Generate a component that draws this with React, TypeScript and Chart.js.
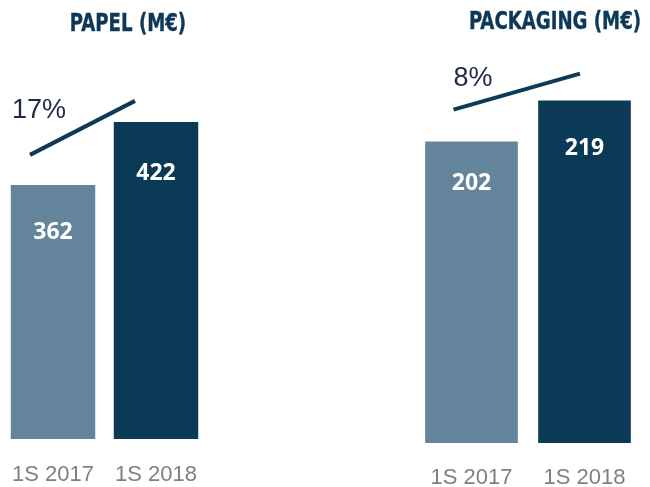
import React, { useEffect, useRef } from 'react';
import { Chart, registerables } from 'chart.js';

Chart.register(...registerables);

const categories = ['1S 2017', '1S 2018'];
const papelValues = [362, 422];
const packagingValues = [202, 219];
const papelGrowth = '17%';
const packagingGrowth = '8%';
const papelTitle = 'PAPEL (M€)';
const packagingTitle = 'PACKAGING (M€)';
const papelRange = [120, 480];
const packagingRange = [77, 235];

const barColors = ['#64849b', '#0b3a56'];

const overlayPlugin = {
  id: 'overlay',
  afterDatasetsDraw(chart: any, _args: any, opts: any) {
    const bars = chart.getDatasetMeta(0).data;
    const vals = chart.data.datasets[0].data;
    const ctx = chart.ctx;
    const b1 = bars[0];
    const b2 = bars[1];
    ctx.save();
    ctx.fillStyle = '#ffffff';
    ctx.font = 'bold 23px "Open Sans", "Liberation Sans", Arial, sans-serif';
    ctx.textAlign = 'center';
    ctx.textBaseline = 'middle';
    bars.forEach((b: any, i: number) => ctx.fillText(String(vals[i]), b.x, b.y + opts.valueOffsets[i]));
    const sx = b1.x + opts.start[0];
    const sy = b1.y + opts.start[1];
    const ex = b2.x + opts.end[0];
    const ey = b2.y + opts.end[1];
    ctx.strokeStyle = '#0c3a57';
    ctx.lineWidth = 4;
    ctx.beginPath();
    ctx.moveTo(sx, sy);
    ctx.lineTo(ex, ey);
    ctx.stroke();
    ctx.fillStyle = '#1c2a44';
    ctx.font = '27px "Liberation Sans", Arial, sans-serif';
    ctx.textAlign = 'left';
    ctx.fillText(opts.label, sx + opts.text[0], sy + opts.text[1]);
    ctx.restore();
  },
};

type PanelProps = {
  values: number[];
  range: number[];
  growth: string;
  left: number;
  width: number;
  padding: { top: number; left: number; right: number; bottom: number };
  labelBox: number;
  valueOffsets: number[];
  start: number[];
  end: number[];
  text: number[];
};

function Panel(p: PanelProps) {
  const ref = useRef<HTMLCanvasElement>(null);
  useEffect(() => {
    const chart = new Chart(ref.current as HTMLCanvasElement, {
      type: 'bar',
      data: {
        labels: categories,
        datasets: [
          {
            data: p.values,
            backgroundColor: barColors,
            borderWidth: 0,
            barPercentage: 1,
            categoryPercentage: 0.82,
          },
        ],
      },
      options: {
        responsive: false,
        animation: false,
        layout: { padding: p.padding },
        plugins: {
          legend: { display: false },
          tooltip: { enabled: false },
          overlay: {
            valueOffsets: p.valueOffsets,
            start: p.start,
            end: p.end,
            text: p.text,
            label: p.growth,
          },
        } as any,
        scales: {
          x: {
            grid: { display: false, drawTicks: false },
            border: { display: false },
            ticks: {
              padding: 0,
              color: '#808080',
              font: {
                family: '"Liberation Sans", Arial, sans-serif',
                size: 22,
                lineHeight: p.labelBox + 'px',
              },
            },
          },
          y: { display: false, min: p.range[0], max: p.range[1] },
        },
      },
      plugins: [overlayPlugin],
    });
    return () => chart.destroy();
  }, []);
  return (
    <canvas
      ref={ref}
      width={p.width}
      height={520}
      style={{ position: 'absolute', left: p.left, top: 0, width: p.width, height: 520 }}
    />
  );
}

const titleStyle: React.CSSProperties = {
  position: 'absolute',
  width: 260,
  textAlign: 'center',
  fontFamily: '"DejaVu Sans Condensed", "DejaVu Sans", sans-serif',
  fontWeight: 'bold',
  fontSize: 24,
  lineHeight: '24px',
  color: '#0d3857',
  whiteSpace: 'nowrap',
  transformOrigin: 'center center',
  WebkitTextStroke: '0.4px #0d3857',
};

export default function App() {
  return (
    <div
      style={{
        position: 'fixed',
        left: 0,
        top: 0,
        width: 650,
        height: 487,
        overflow: 'hidden',
        background: '#ffffff',
      }}
    >
      <Panel
        values={papelValues}
        range={papelRange}
        growth={papelGrowth}
        left={0}
        width={215}
        padding={{ top: 61, left: 1.5, right: 7.5, bottom: 9 }}
        labelBox={72}
        valueOffsets={[47.5, 51.5]}
        start={[-23, -30]}
        end={[-21, -21]}
        text={[-18, -44]}
      />
      <Panel
        values={packagingValues}
        range={packagingRange}
        growth={packagingGrowth}
        left={400}
        width={250}
        padding={{ top: 62, left: 15, right: 9, bottom: 7 }}
        labelBox={70}
        valueOffsets={[41.5, 48]}
        start={[-18, -32]}
        end={[-4.5, -27]}
        text={[0, -31]}
      />
      <div style={{ ...titleStyle, left: 128 - 130, top: 11, transform: 'scaleX(0.84)' }}>{papelTitle}</div>
      <div style={{ ...titleStyle, left: 555 - 130, top: 9, transform: 'scaleX(0.84)' }}>{packagingTitle}</div>
    </div>
  );
}
